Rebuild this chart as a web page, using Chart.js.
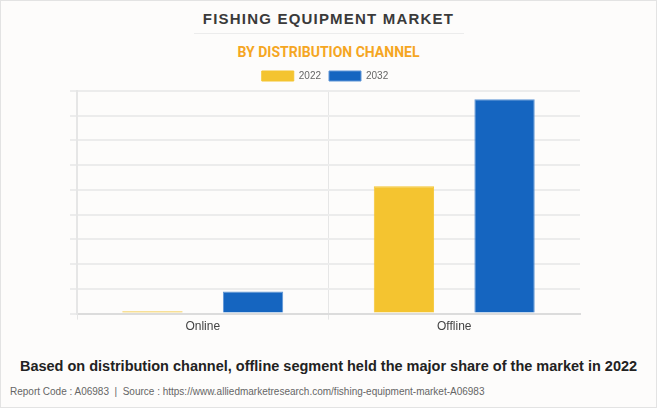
<!DOCTYPE html>
<html>
<head>
<meta charset="utf-8">
<script src="https://cdn.jsdelivr.net/npm/chart.js@4.4.0/dist/chart.umd.min.js"></script>
<style>
  html, body { margin: 0; padding: 0; background: #fff; }
  .frame {
    position: relative; width: 655px; height: 406px;
    border: 1px solid #e3e3e3; background: #fdfcfb; font-family: "Liberation Sans", Arial, sans-serif;
  }
  .title {
    position: absolute; top: 9px; left: 0; width: 100%; text-align: center;
    font-size: 15px; font-weight: bold; letter-spacing: 1.2px; color: #3a3a3a;
  }
  .rule { position: absolute; top: 32px; left: 193px; width: 270px; height: 1px; background: #ececec; }
  .subtitle {
    position: absolute; top: 43px; left: 0; width: 100%; text-align: center;
    font-size: 14px; font-weight: bold; color: #f5a623; font-family: "Liberation Sans Narrow", "Roboto", sans-serif;
  }
  .chartbox { position: absolute; top: 62px; left: 0; width: 655px; height: 271px; }
  .caption {
    position: absolute; top: 357px; left: 0; width: 100%; text-align: center;
    font-size: 14.5px; font-weight: bold; color: #222;
  }
  .source {
    position: absolute; top: 385px; left: 9px; font-size: 10px; color: #666;
    font-family: "Liberation Sans Narrow", "Liberation Sans", sans-serif;
  }
</style>
</head>
<body>
<div class="frame">
  <div class="title">FISHING EQUIPMENT MARKET</div>
  <div class="rule"></div>
  <div class="subtitle">BY DISTRIBUTION CHANNEL</div>
  <div class="chartbox"><canvas id="chart"></canvas></div>
  <div class="caption">Based on distribution channel, offline segment held the major share of the market in 2022</div>
  <div class="source">Report Code : A06983 &nbsp;|&nbsp; Source : https://www.alliedmarketresearch.com/fishing-equipment-market-A06983</div>
</div>
<script>
const channels = ['Online', 'Offline'];
const years = ['2022', '2032'];
const values2022 = [0.1, 5.15];
const values2032 = [0.89, 8.67];

const ctx = document.getElementById('chart').getContext('2d');
new Chart(ctx, {
  type: 'bar',
  data: {
    labels: channels,
    datasets: [
      {
        label: years[0],
        data: values2022,
        backgroundColor: '#f4c430',
        borderColor: '#f4c430',
        borderWidth: 1,
        categoryPercentage: 0.8,
        barPercentage: 0.6,
      },
      {
        label: years[1],
        data: values2032,
        backgroundColor: '#1565c0',
        borderColor: '#5e95d6',
        borderWidth: 1,
        categoryPercentage: 0.8,
        barPercentage: 0.6,
      },
    ],
  },
  options: {
    responsive: true,
    maintainAspectRatio: false,
    animation: false,
    layout: { padding: { left: 69, right: 76, top: 0, bottom: 0 } },
    plugins: {
      legend: {
        position: 'top',
        labels: {
          boxWidth: 32,
          boxHeight: 10,
          padding: 8,
          color: '#666',
          font: { family: 'Liberation Sans Narrow, Liberation Sans', size: 10 },
        },
      },
      tooltip: { enabled: false },
    },
    scales: {
      x: {
        grid: {
          offset: true,
          tickLength: 6,
          // only the left edge and the divider between the two groups
          color: (c) => (c.type === 'tick' && c.index < channels.length ? '#e6e6e6' : 'rgba(0,0,0,0)'),
          lineWidth: (c) => (c.type === 'tick' && c.index < channels.length ? 1 : 0),
        },
        border: { color: '#dcdcdc', width: 2 },
        ticks: { color: '#444', font: { family: 'Liberation Sans', size: 12 }, padding: 0 },
      },
      y: {
        min: 0,
        max: 9,
        grid: { color: '#ececec', tickLength: 7, lineWidth: 2 },
        border: { color: '#e6e6e6', width: 2 },
        ticks: { display: false, stepSize: 1 },
      },
    },
  },
});
</script>
</body>
</html>
